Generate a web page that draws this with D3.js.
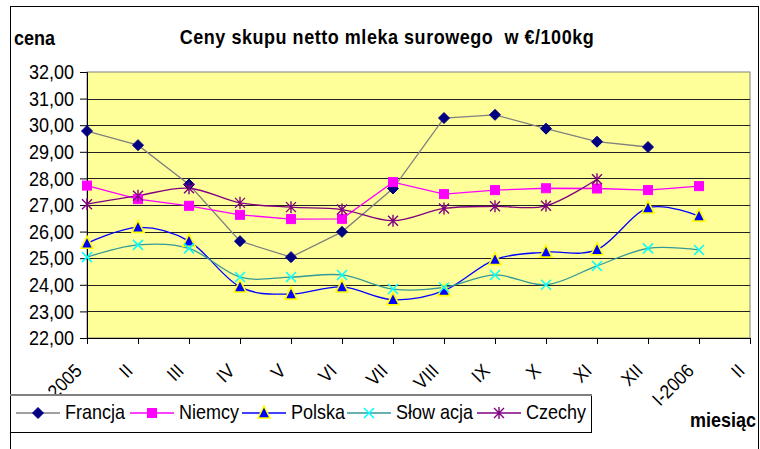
<!DOCTYPE html>
<html><head><meta charset="utf-8">
<script src="https://cdn.jsdelivr.net/npm/d3@7"></script>
<style>
body{margin:0;background:#fff;}
svg text{font-family:"Liberation Sans",Arial,sans-serif;}
</style></head>
<body><svg id="c" width="760" height="449"></svg>
<script>
const months = ["I-2005","II","III","IV","V","VI","VII","VIII","IX","X","XI","XII","I-2006","II "];
const yTicks = [22,23,24,25,26,27,28,29,30,31,32];
const francja = [29.78,29.25,27.77,25.64,25.04,25.99,27.62,30.27,30.39,29.87,29.38,29.18];
const niemcy  = [27.73,27.22,26.97,26.63,26.47,26.48,27.86,27.41,27.56,27.63,27.62,27.56,27.71];
const polska  = [25.56,26.16,25.64,23.92,23.65,23.92,23.44,23.78,24.95,25.23,25.32,26.89,26.58];
const slowacja= [25.04,25.50,25.37,24.29,24.29,24.37,23.84,23.90,24.37,24.00,24.71,25.37,25.31];
const czechy  = [27.03,27.35,27.63,27.08,26.92,26.83,26.41,26.87,26.95,26.97,27.97];
const seriesNames = ["Francja","Niemcy","Polska","Słow acja","Czechy"];

const svg = d3.select("#c");
const L=87,R=750,T=72,B=338;
const SX=0.9; // horizontal squeeze of the text, as in the reference
const x = d3.scalePoint().domain(months).range([L,R]);
const y = d3.scaleLinear().domain([22,32]).range([B,T]);

function txt(parent, tx, ty, str, opts={}){
  const size = opts.size||20, sx = opts.sx||SX, rot = opts.rot||0;
  const t = parent.append("text")
    .attr("transform",`translate(${tx},${ty}) rotate(${rot}) scale(${sx},1)`)
    .attr("font-size",size).attr("fill","#000")
    .attr("text-anchor",opts.anchor||"start")
    .text(str);
  if(opts.bold) t.attr("font-weight","bold");
  if(opts.ls) t.attr("letter-spacing",opts.ls);
  if(opts.dy) t.attr("dy",opts.dy);
  t.style("white-space","pre");
  return t;
}

// outer border
svg.append("rect").attr("x",10.5).attr("y",6.5).attr("width",748).attr("height",460)
  .attr("fill","#fff").attr("stroke","#000");

// plot area
svg.append("rect").attr("x",L).attr("y",T).attr("width",R-L).attr("height",B-T)
  .attr("fill","#FFFF99").attr("stroke","#808080");

// gridlines
svg.append("g").selectAll("line").data(yTicks.slice(1,-1)).join("line")
  .attr("x1",L).attr("x2",R).attr("y1",d=>Math.round(y(d))+0.5).attr("y2",d=>Math.round(y(d))+0.5)
  .attr("stroke","#222").attr("stroke-width",1);

// y axis
const ya = svg.append("g").attr("transform",`translate(${L},0)`)
  .call(d3.axisLeft(y).tickValues(yTicks).tickSize(7).tickFormat(""));
ya.select(".domain").attr("stroke","#000");
ya.selectAll("text").remove();
const yl = svg.append("g");
yTicks.forEach(v=>txt(yl, 74, y(v), d3.format(".2f")(v).replace(".",","), {anchor:"end", dy:"0.36em"}));

// x axis
const xa = svg.append("g").attr("transform",`translate(0,${B})`)
  .call(d3.axisBottom(x).tickSize(6).tickFormat(""));
xa.select(".domain").attr("stroke","#000");
xa.selectAll("text").remove();
const xl = svg.append("g");
months.forEach(m=>txt(xl, x(m)-4, 372, m.trim(), {anchor:"end", rot:-45, sx:0.92, size:19}));

// series
const series = [
  {name:seriesNames[0], data:francja, line:"#808080", curve:d3.curveLinear, marker:"diamond"},
  {name:seriesNames[1], data:niemcy, line:"#FF00FF", curve:d3.curveLinear, marker:"square"},
  {name:seriesNames[2], data:polska, line:"#0000FF", curve:d3.curveCatmullRom.alpha(0), marker:"triangle"},
  {name:seriesNames[3], data:slowacja, line:"#339999", curve:d3.curveCatmullRom.alpha(0), marker:"x"},
  {name:seriesNames[4], data:czechy, line:"#800080", curve:d3.curveCatmullRom.alpha(0), marker:"star"}
];

function drawMarker(g, type, cx, cy){
  if(type==="diamond"){
    g.append("path").attr("d",`M${cx},${cy-5.5}L${cx+5.5},${cy}L${cx},${cy+5.5}L${cx-5.5},${cy}Z`)
      .attr("fill","#000080").attr("stroke","#000080");
  } else if(type==="square"){
    g.append("rect").attr("x",cx-4.5).attr("y",cy-4.5).attr("width",9).attr("height",9)
      .attr("fill","#FF00FF").attr("stroke","#FF00FF");
  } else if(type==="triangle"){
    g.append("path").attr("d",`M${cx},${cy-7}L${cx+6},${cy+5}L${cx-6},${cy+5}Z`)
      .attr("fill","#0000FF").attr("stroke","#FFFF00").attr("stroke-width",1.6);
  } else if(type==="x"){
    g.append("path").attr("d",`M${cx-5},${cy-5}L${cx+5},${cy+5}M${cx+5},${cy-5}L${cx-5},${cy+5}`)
      .attr("stroke","#00FFFF").attr("stroke-width",1.5).attr("fill","none");
  } else if(type==="star"){
    g.append("path").attr("d",`M${cx-5},${cy-5}L${cx+5},${cy+5}M${cx+5},${cy-5}L${cx-5},${cy+5}M${cx},${cy-6}L${cx},${cy+6}`)
      .attr("stroke","#800080").attr("stroke-width",1.4).attr("fill","none");
  }
}

const plot = svg.append("g");
series.forEach(s=>{
  const line = d3.line().x((d,i)=>x(months[i])).y(d=>y(d)).curve(s.curve);
  plot.append("path").attr("d",line(s.data)).attr("fill","none")
    .attr("stroke",s.line).attr("stroke-width",1.3);
});
series.forEach(s=>{
  const g = plot.append("g");
  s.data.forEach((d,i)=>drawMarker(g,s.marker,x(months[i]),y(d)));
});

// legend
const lg = svg.append("g");
lg.append("rect").attr("x",10.5).attr("y",394.5).attr("width",581).attr("height",38)
  .attr("fill","#fff").attr("stroke","#000");
lg.append("line").attr("x1",10).attr("x2",592).attr("y1",395).attr("y2",395).attr("stroke","#808080").attr("stroke-width",2);
const legX = [16,130,242,347,477];
series.forEach((s,i)=>{
  const x0=legX[i], cy=413;
  lg.append("line").attr("x1",x0).attr("x2",x0+44).attr("y1",cy).attr("y2",cy)
    .attr("stroke",s.line).attr("stroke-width",1.3);
  drawMarker(lg,s.marker,x0+22,cy);
  txt(lg, x0+49, 419, s.name, {size:20, sx:0.9});
});

// titles
txt(svg, 387, 44, "Ceny skupu netto mleka surowego  w €/100kg", {anchor:"middle", bold:true, size:20, sx:0.9, ls:0.6});
txt(svg, 14, 45, "cena", {bold:true, size:20, sx:0.9});
txt(svg, 690, 427, "miesiąc", {bold:true, size:20, sx:0.9});
</script></body></html>
